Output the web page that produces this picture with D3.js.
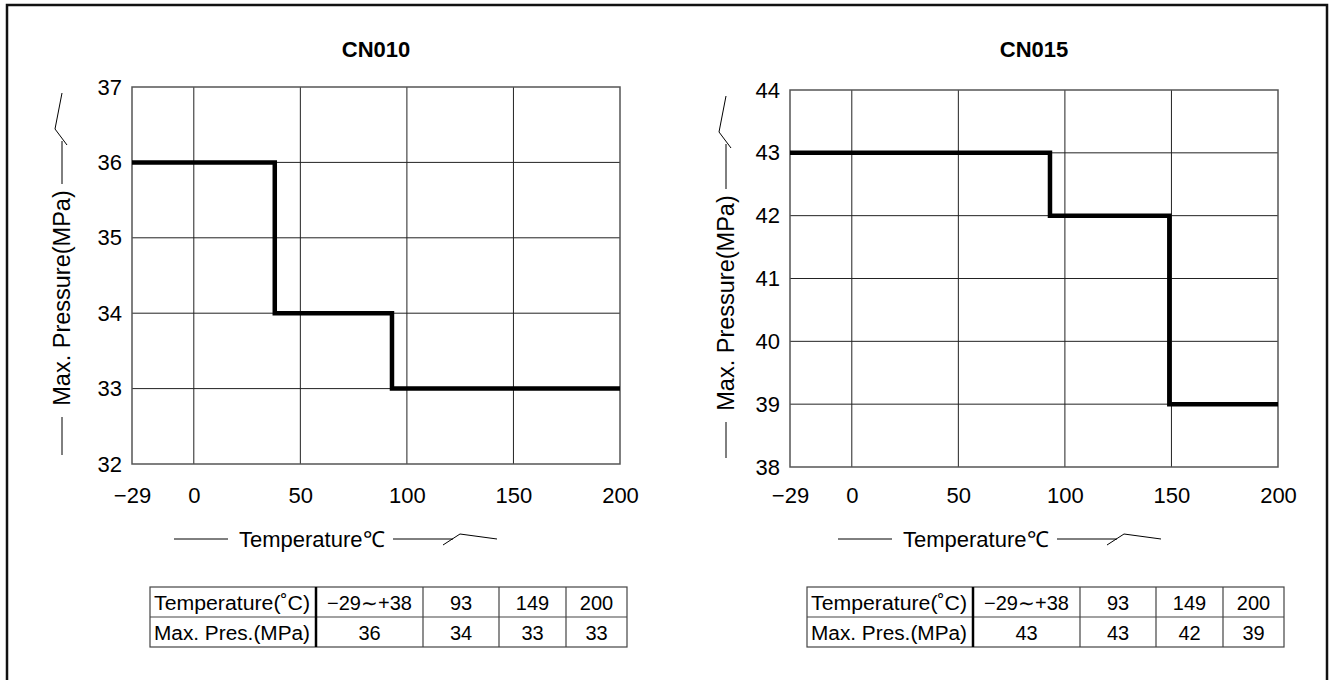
<!DOCTYPE html>
<html>
<head>
<meta charset="utf-8">
<script src="https://cdn.jsdelivr.net/npm/d3@7"></script>
<style>
  body { margin: 0; background: #fff; }
  text { font-family: "Liberation Sans", Arial, sans-serif; fill: #000; }
</style>
</head>
<body>
<div id="chart"></div>
<script>
// chart data
var tempTicks = [-29, 0, 50, 100, 150, 200];
var cn010Ticks = [32, 33, 34, 35, 36, 37];
var cn015Ticks = [38, 39, 40, 41, 42, 43, 44];

// step breakpoints (value holds until next breakpoint)
var cn010Temps = [-29, 38, 93, 200];
var cn010Pres = [36, 34, 33, 33];
var cn015Temps = [-29, 93, 149, 200];
var cn015Pres = [43, 42, 39, 39];

// table contents
var tableHead = ["Temperature(˚C)", "Max. Pres.(MPa)"];
var tableTemps = ["−29∼+38", "93", "149", "200"];
var cn010Table = ["36", "34", "33", "33"];
var cn015Table = ["43", "43", "42", "39"];

var W = 1329, H = 680;

var svg = d3.select("#chart")
  .append("svg")
    .attr("width", W)
    .attr("height", H);

// outer frame
svg.append("rect")
  .attr("x", 7).attr("y", 5)
  .attr("width", 1320).attr("height", 680)
  .attr("fill", "none")
  .attr("stroke", "#111")
  .attr("stroke-width", 2.5);

function drawPanel(opt) {
  var g = svg.append("g");

  var x = d3.scaleLinear()
    .domain([-29, 200])
    .range([opt.left, opt.left + 488]);

  var y = d3.scaleLinear()
    .domain(d3.extent(opt.yTicks))
    .range([opt.bottom, opt.top]);

  // title
  g.append("text")
    .attr("x", (x.range()[0] + x.range()[1]) / 2)
    .attr("y", 57)
    .attr("text-anchor", "middle")
    .attr("font-size", "22px")
    .attr("font-weight", "bold")
    .text(opt.title);

  // grid
  g.append("g")
    .selectAll("line")
    .data(tempTicks.slice(1, -1))
    .enter()
    .append("line")
      .attr("x1", function(d) { return x(d); })
      .attr("x2", function(d) { return x(d); })
      .attr("y1", y.range()[0])
      .attr("y2", y.range()[1])
      .attr("stroke", "#222")
      .attr("stroke-width", 1);

  g.append("g")
    .selectAll("line")
    .data(opt.yTicks.slice(1, -1))
    .enter()
    .append("line")
      .attr("x1", x.range()[0])
      .attr("x2", x.range()[1])
      .attr("y1", function(d) { return y(d); })
      .attr("y2", function(d) { return y(d); })
      .attr("stroke", "#222")
      .attr("stroke-width", 1);

  // plot frame
  g.append("rect")
    .attr("x", x.range()[0])
    .attr("y", y.range()[1])
    .attr("width", x.range()[1] - x.range()[0])
    .attr("height", y.range()[0] - y.range()[1])
    .attr("fill", "none")
    .attr("stroke", "#555")
    .attr("stroke-width", 1.5);

  // axes (labels only, the frame draws the lines)
  var yAxis = g.append("g")
    .attr("transform", "translate(" + x.range()[0] + ",0)")
    .call(d3.axisLeft(y).tickValues(opt.yTicks).tickSize(0).tickPadding(10)
      .tickFormat(d3.format("d")));
  yAxis.select(".domain").remove();
  yAxis.selectAll("text")
    .attr("font-size", "22px")
    .attr("font-family", "Liberation Sans, Arial, sans-serif")
    .attr("fill", "#000");

  var xAxis = g.append("g")
    .attr("transform", "translate(0,495)")
    .call(d3.axisBottom(x).tickValues(tempTicks).tickSize(0).tickPadding(0)
      .tickFormat(function(d) { return d < 0 ? "−" + Math.abs(d) : d; }));
  xAxis.select(".domain").remove();
  xAxis.selectAll("text")
    .attr("font-size", "22px")
    .attr("font-family", "Liberation Sans, Arial, sans-serif")
    .attr("fill", "#000")
    .attr("dy", "0.35em");

  // step line
  var pts = opt.temps.map(function(t, i) { return [t, opt.pres[i]]; });
  g.append("path")
    .datum(pts)
    .attr("fill", "none")
    .attr("stroke", "#000")
    .attr("stroke-width", 4.5)
    .attr("d", d3.line()
      .x(function(d) { return x(d[0]); })
      .y(function(d) { return y(d[1]); })
      .curve(d3.curveStepAfter));

  // y label with arrow
  var lx = opt.labelX;
  var mid = opt.labelMid;
  g.append("text")
    .attr("transform", "translate(" + (lx + 8) + "," + mid + ") rotate(-90)")
    .attr("text-anchor", "middle")
    .attr("font-size", "23.5px")
    .text("Max. Pressure(MPa)");
  g.append("line")
    .attr("x1", lx).attr("x2", lx)
    .attr("y1", mid + 119).attr("y2", y.range()[0] - 9)
    .attr("stroke", "#000");
  g.append("line")
    .attr("x1", lx).attr("x2", lx)
    .attr("y1", mid - 114).attr("y2", opt.top + 54)
    .attr("stroke", "#000");
  g.append("path")
    .attr("d", "M" + (lx + 5) + "," + (opt.top + 58) +
               "L" + (lx - 7) + "," + (opt.top + 42) +
               "L" + lx + "," + (opt.top + 6))
    .attr("fill", "none")
    .attr("stroke", "#000");

  // x label with arrow
  var ly = 539;
  var ox = opt.xlabOff;
  g.append("line")
    .attr("x1", ox + 174).attr("x2", ox + 228)
    .attr("y1", ly).attr("y2", ly)
    .attr("stroke", "#000");
  g.append("text")
    .attr("x", ox + 239)
    .attr("y", ly)
    .attr("dy", "0.35em")
    .attr("font-size", "22px")
    .text("Temperature℃");
  g.append("line")
    .attr("x1", ox + 393).attr("x2", ox + 453)
    .attr("y1", ly).attr("y2", ly)
    .attr("stroke", "#000");
  g.append("path")
    .attr("d", "M" + (ox + 443) + "," + (ly + 6) +
               "L" + (ox + 460) + "," + (ly - 5) +
               "L" + (ox + 497) + "," + ly)
    .attr("fill", "none")
    .attr("stroke", "#000");

  // table
  var colW = [166, 107, 76, 67, 61];
  var colX = [opt.tableLeft];
  colW.forEach(function(w, i) { colX.push(colX[i] + w); });
  var rowY = [587, 617, 647];
  var t = g.append("g");
  t.append("rect")
    .attr("x", colX[0]).attr("y", rowY[0])
    .attr("width", colX[5] - colX[0]).attr("height", rowY[2] - rowY[0])
    .attr("fill", "none").attr("stroke", "#444").attr("stroke-width", 1.2);
  t.append("line")
    .attr("x1", colX[0]).attr("x2", colX[5])
    .attr("y1", rowY[1]).attr("y2", rowY[1])
    .attr("stroke", "#444").attr("stroke-width", 1.2);
  t.selectAll(".col")
    .data(colX.slice(1, 5))
    .enter()
    .append("line")
      .attr("x1", function(d) { return d; })
      .attr("x2", function(d) { return d; })
      .attr("y1", rowY[0]).attr("y2", rowY[2])
      .attr("stroke", function(d, i) { return i === 0 ? "#000" : "#444"; })
      .attr("stroke-width", function(d, i) { return i === 0 ? 2.5 : 1.2; });

  t.selectAll(".head")
    .data(tableHead)
    .enter()
    .append("text")
      .attr("x", colX[0] + 4)
      .attr("y", function(d, i) { return (rowY[i] + rowY[i + 1]) / 2 + 1; })
      .attr("dy", "0.35em")
      .attr("font-size", "20px")
      .attr("textLength", 156)
      .attr("lengthAdjust", "spacingAndGlyphs")
      .text(function(d) { return d; });

  var rows = [tableTemps, opt.table];
  rows.forEach(function(row, r) {
    t.selectAll(".r" + r)
      .data(row)
      .enter()
      .append("text")
        .attr("x", function(d, i) { return (colX[i + 1] + colX[i + 2]) / 2; })
        .attr("y", (rowY[r] + rowY[r + 1]) / 2 + 1)
        .attr("dy", "0.35em")
        .attr("text-anchor", "middle")
        .attr("font-size", "20px")
        .text(function(d) { return d; });
  });
}

drawPanel({
  title: "CN010", left: 132, top: 87, bottom: 464,
  yTicks: cn010Ticks, temps: cn010Temps, pres: cn010Pres,
  table: cn010Table, tableLeft: 150,
  labelX: 62, labelMid: 298, xlabOff: 0
});

drawPanel({
  title: "CN015", left: 790, top: 90, bottom: 467,
  yTicks: cn015Ticks, temps: cn015Temps, pres: cn015Pres,
  table: cn015Table, tableLeft: 807,
  labelX: 726, labelMid: 303, xlabOff: 664
});
</script>
</body>
</html>
